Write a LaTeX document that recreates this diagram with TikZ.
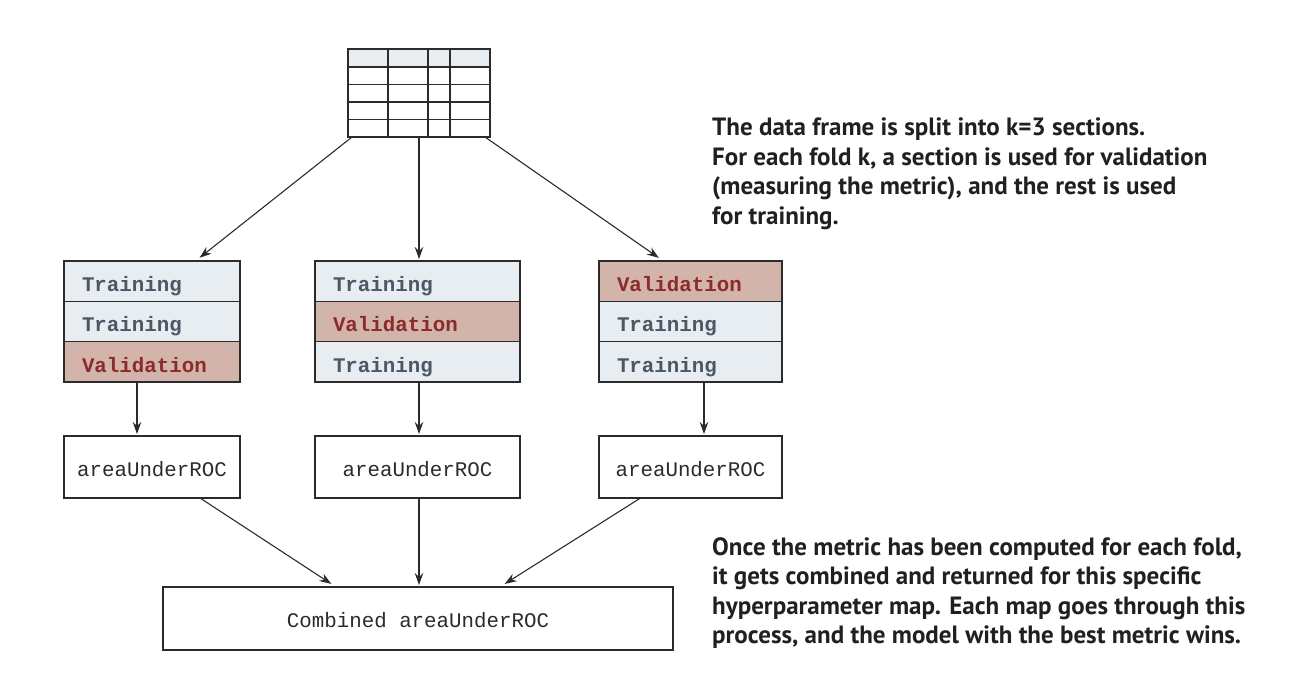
\documentclass[tikz,border=0pt]{standalone}
\usepackage{fontspec}
\setmonofont{Liberation Mono}
\newfontfamily\notefont{PT Sans}
\usetikzlibrary{arrows.meta,calc}
\definecolor{trainfill}{HTML}{E7EDF1}
\definecolor{valfill}{HTML}{D3B4AB}
\definecolor{traintext}{HTML}{4D5866}
\definecolor{valtext}{HTML}{8C2B2B}
\definecolor{linec}{HTML}{2B2B2B}
\definecolor{notec}{HTML}{231F20}
\tikzset{
  cellbase/.style={draw=linec, line width=1.3pt, minimum height=40.3pt, text height=26pt, text depth=5pt, inner ysep=0pt, inner xsep=18pt, outer sep=0pt, anchor=north west, align=left, font=\ttfamily\bfseries\fontsize{20.8}{22}\selectfont},
  train/.style={cellbase, fill=trainfill, text=traintext},
  valid/.style={cellbase, fill=valfill, text=valtext},
  auc/.style={draw=linec, line width=1.3pt, minimum height=62pt, text height=22pt, text depth=4pt, inner sep=0pt, outer sep=0pt, anchor=north west, font=\ttfamily\fontsize{20.8}{22}\selectfont, text=linec},
  arr/.style={draw=linec, line width=1.1pt, -{Stealth[length=12pt,width=8.5pt]}, shorten >=2pt},
  border/.style={draw=linec, line width=1.3pt},
  note/.style={anchor=north west, inner sep=0pt, align=left, text=notec, font=\notefont\bfseries\fontsize{25}{29.5}\selectfont}
}
\begin{document}
\begin{tikzpicture}[x=1pt,y=-1pt]
\useasboundingbox (0,0) rectangle (1306,691);
% table
\fill[trainfill] (348,49) rectangle (490,67);
\node[draw=linec, line width=1.6pt, minimum width=142pt, minimum height=88pt, inner sep=0pt, outer sep=0pt, anchor=north west] (tbl) at (348,49) {};
\foreach \yy in {67,84.5,102,119.5} \draw[linec, line width=1.6pt] (348,\yy) -- (490,\yy);
\foreach \xx in {388,428,450} \draw[linec, line width=1.6pt] (\xx,49) -- (\xx,137);
% fold boxes
\node[train, text width=140pt] (L1) at (64,261) {Training};
\node[train, text width=140pt] (L2) at (64,301.3) {Training};
\node[valid, text width=140pt] (L3) at (64,341.6) {Validation};
\node[train, text width=169pt] (M1) at (315,261) {Training};
\node[valid, text width=169pt] (M2) at (315,301.3) {Validation};
\node[train, text width=169pt] (M3) at (315,341.6) {Training};
\node[valid, text width=147pt] (R1) at (599,261) {Validation};
\node[train, text width=147pt] (R2) at (599,301.3) {Training};
\node[train, text width=147pt] (R3) at (599,341.6) {Training};
\foreach \n in {L1,L2,L3,M1,M2,M3,R1,R2,R3}
  \draw[border] (\n.north west) rectangle (\n.south east);
% auc boxes
\node[auc, minimum width=176pt] (A1) at (64,436) {areaUnderROC};
\node[auc, minimum width=205pt] (A2) at (315,436) {areaUnderROC};
\node[auc, minimum width=183pt] (A3) at (599,436) {areaUnderROC};
\node[auc, minimum width=510pt, minimum height=63pt] (C) at (163,587) {Combined areaUnderROC};
% arrows from table
\draw[arr] ($(tbl.south west)+(4,0)$) -- ($(L1.north)+(46,-2)$);
\draw[arr] (tbl.south) -- (tbl.south |- M1.north);
\draw[arr] ($(tbl.south east)+(-5,0)$) -- ($(R1.north)+(-30,-2)$);
% arrows fold -> auc
\draw[arr] ($(L3.south west)+(73,0)$) coordinate (l3s) -- (l3s |- A1.north);
\draw[arr] (M3.south -| tbl.south) -- (tbl.south |- A2.north);
\draw[arr] ($(R3.south west)+(105,0)$) coordinate (r3s) -- (r3s |- A3.north);
% arrows auc -> combined
\draw[arr] ($(A1.south)+(48,0)$) -- ($(C.north west)+(170,-2)$);
\draw[arr] (A2.south -| tbl.south) -- (tbl.south |- C.north);
\draw[arr] ($(A3.south)+(-50,0)$) -- ($(C.north west)+(340,-2)$);
% notes
\node[note] (n1) at (712,118) {The data frame is split into k=3 sections.\\For each fold k, a section is used for validation\\(measuring the metric), and the rest is used\\for training.};
\node[note] (n2) at (712,537) {Once the metric has been computed for each fold,\\it gets combined and returned for this specific\\hyperparameter map. Each map goes through this\\process, and the model with the best metric wins.};
\end{tikzpicture}
\end{document}
